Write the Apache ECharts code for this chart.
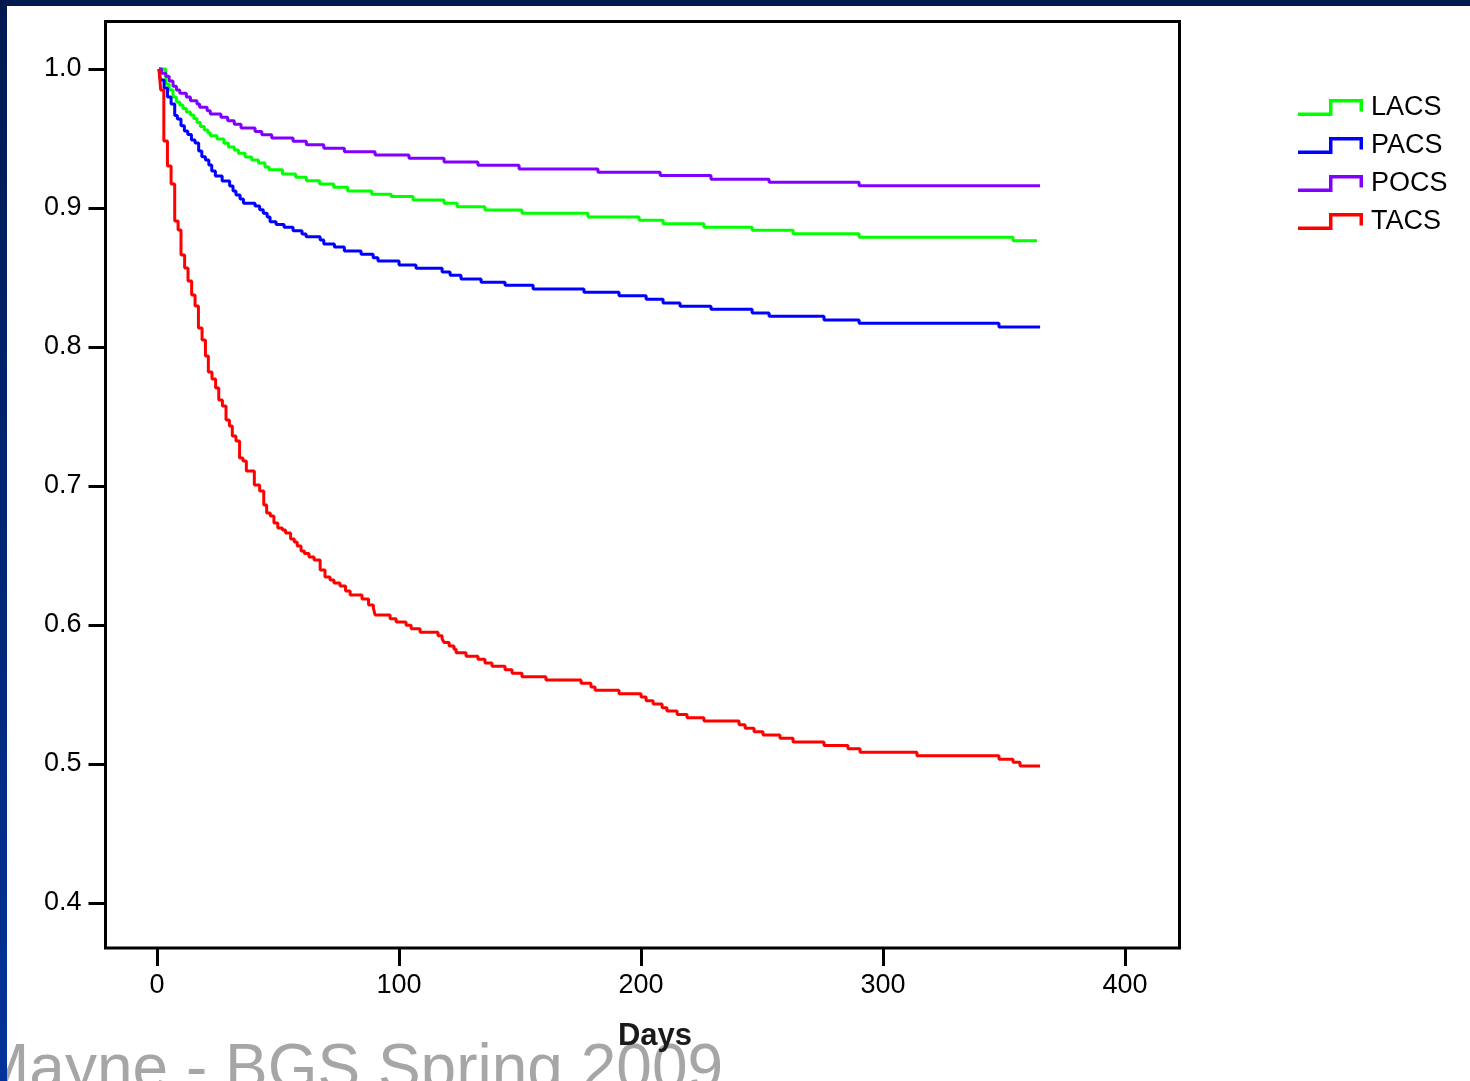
<!DOCTYPE html>
<html>
<head>
<meta charset="utf-8">
<script src="https://cdn.jsdelivr.net/npm/echarts@6/dist/echarts.min.js"></script>
<style>
  html, body { margin: 0; padding: 0; background: #ffffff; }
  #chart { width: 1470px; height: 1081px; }
</style>
</head>
<body>
<div id="chart"></div>
<script>
// ---- Data ----
const seriesNames = ['LACS', 'PACS', 'POCS', 'TACS'];
const seriesColors = ['#00ff00', '#0000ff', '#8000ff', '#ff0000'];

const xTicks = [0, 100, 200, 300, 400];
const yTicks = [0.4, 0.5, 0.6, 0.7, 0.8, 0.9, 1.0];

const lacsDays = [0.8,3.6,5.0,6.6,8.0,9.4,10.7,12.1,13.8,15.2,16.5,17.9,19.5,21.0,22.0,24.8,27.6,29.5,31.9,33.6,36.4,39.1,41.9,44.6,46.3,51.8,57.3,61.7,67.2,73.0,78.8,88.7,96.7,105.8,118.6,124.0,135.5,150.8,178.1,199.2,209.1,226.0,245.9,262.8,290.1,353.7,363.6];
const lacsSurv = [1.0,0.9892,0.9849,0.9799,0.9763,0.9741,0.9716,0.9691,0.9669,0.9644,0.9615,0.9586,0.9561,0.9540,0.9520,0.9496,0.9465,0.9439,0.9417,0.9394,0.9367,0.9345,0.9324,0.9295,0.9276,0.9245,0.9221,0.9196,0.9173,0.9149,0.9122,0.9099,0.9083,0.9058,0.9034,0.9009,0.8986,0.8962,0.8935,0.8912,0.8887,0.8861,0.8840,0.8815,0.8789,0.8765,0.8765];

const pacsDays = [0.8,1.4,2.9,4.3,5.8,7.3,8.4,9.9,11.3,12.7,14.2,15.7,17.2,18.5,20.0,21.4,22.6,24.1,26.9,30.0,31.4,32.6,34.3,35.7,40.5,42.4,43.9,45.5,46.7,49.2,52.5,56.2,59.9,61.6,67.4,68.9,73.3,77.4,84.3,89.3,91.3,100.0,107.0,117.8,121.1,125.6,133.9,143.8,155.4,176.4,190.9,202.1,209.1,216.1,228.9,245.9,252.9,275.6,290.1,347.9,364.9];
const pacsSurv = [1.0,0.9921,0.9863,0.9799,0.9748,0.9665,0.9640,0.9592,0.9554,0.9529,0.9489,0.9468,0.9410,0.9369,0.9345,0.9309,0.9266,0.9230,0.9194,0.9158,0.9122,0.9094,0.9065,0.9034,0.9014,0.8988,0.8962,0.8935,0.8901,0.8881,0.8861,0.8837,0.8813,0.8794,0.8770,0.8741,0.8719,0.8691,0.8667,0.8642,0.8619,0.8590,0.8566,0.8540,0.8516,0.8489,0.8465,0.8444,0.8417,0.8394,0.8369,0.8343,0.8317,0.8293,0.8271,0.8245,0.8221,0.8194,0.8171,0.8144,0.8144];

const pocsDays = [0.8,1.9,3.6,5.0,6.6,8.0,9.4,12.1,13.8,16.5,17.6,20.7,22.0,26.4,29.2,31.9,34.7,40.5,43.3,47.4,56.2,61.7,68.9,77.4,90.1,104.1,118.6,132.6,149.6,182.2,207.9,228.9,252.9,290.1,364.9];
const pocsSurv = [1.0,0.9969,0.9947,0.9914,0.9876,0.9849,0.9825,0.9799,0.9772,0.9748,0.9724,0.9700,0.9676,0.9653,0.9627,0.9602,0.9576,0.9550,0.9527,0.9504,0.9480,0.9455,0.9429,0.9405,0.9381,0.9358,0.9331,0.9307,0.9281,0.9257,0.9233,0.9207,0.9186,0.9160,0.9160];

const tacsDays = [0.8,1.5,2.8,4.3,5.8,7.3,8.7,9.9,11.4,12.8,14.3,15.7,17.1,18.6,20.0,21.2,22.7,24.2,25.5,27.0,28.5,29.9,31.1,32.6,34.1,35.5,36.9,40.2,42.4,44.1,45.3,46.8,48.3,49.9,51.8,53.1,55.2,56.7,57.9,59.5,60.9,62.8,64.9,67.4,69.4,71.5,73.1,75.6,77.9,79.8,84.7,87.4,89.4,90.1,96.3,98.8,102.9,105.0,108.7,116.1,117.8,118.6,120.7,122.7,123.6,127.7,132.6,135.5,138.4,143.8,146.7,150.8,160.7,175.2,179.3,181.0,190.9,200.0,202.1,205.0,208.7,210.7,214.9,219.0,226.0,240.5,243.0,246.7,250.4,257.4,262.8,275.6,285.5,290.5,314.0,347.9,353.7,356.6,364.9];
const tacsSurv = [1.0,0.9849,0.9482,0.9302,0.9173,0.8906,0.8842,0.8662,0.8568,0.8475,0.8374,0.8295,0.8137,0.8050,0.7935,0.7820,0.7770,0.7705,0.7619,0.7576,0.7475,0.7432,0.7360,0.7324,0.7201,0.7180,0.7108,0.7007,0.6964,0.6863,0.6806,0.6784,0.6734,0.6698,0.6683,0.6662,0.6619,0.6597,0.6568,0.6532,0.6514,0.6489,0.6468,0.6396,0.6345,0.6324,0.6302,0.6281,0.6245,0.6216,0.6187,0.6144,0.6122,0.6072,0.6045,0.6022,0.5998,0.5973,0.5947,0.5923,0.5899,0.5875,0.5849,0.5825,0.5801,0.5775,0.5753,0.5727,0.5703,0.5678,0.5653,0.5628,0.5604,0.5581,0.5554,0.5530,0.5506,0.5482,0.5455,0.5432,0.5405,0.5381,0.5357,0.5333,0.5309,0.5283,0.5257,0.5232,0.5209,0.5185,0.5158,0.5134,0.5110,0.5084,0.5060,0.5034,0.5012,0.4986,0.4986];

const xAxisTitle = 'Days';
const footerText = 'Mayne - BGS Spring 2009';

// ---- Build ----
const allDays = [lacsDays, pacsDays, pocsDays, tacsDays];
const allSurv = [lacsSurv, pacsSurv, pocsSurv, tacsSurv];
const zip = (a, b) => a.map((d, i) => [d, b[i]]);

const FONT = "'Liberation Sans', Arial, sans-serif";
const stepIcon = 'path://M0,13.5L31,13.5L31,0L65,0L65,12.5L61.5,12.5L61.5,3.5L34.5,3.5L34.5,17L0,17Z';

const chart = echarts.init(document.getElementById('chart'), null, { renderer: 'canvas' });
chart.setOption({
  animation: false,
  backgroundColor: '#ffffff',
  grid: {
    left: 105.5, top: 21.5, right: 290.5, bottom: 133,
    show: true, borderColor: '#000000', borderWidth: 3, backgroundColor: 'transparent',
    containLabel: false
  },
  legend: {
    orient: 'vertical',
    left: 1293, top: 89,
    itemWidth: 65, itemHeight: 17, itemGap: 11,
    icon: stepIcon,
    data: seriesNames,
    textStyle: { fontFamily: FONT, fontSize: 27, color: '#000000', padding: [0, 0, 0, 3] }
  },
  xAxis: {
    type: 'value',
    min: -21.3, max: 422.5,
    axisLine: { show: false, onZero: false },
    splitLine: { show: false },
    axisTick: { show: true, inside: false, length: 18, lineStyle: { color: '#000', width: 3 }, customValues: xTicks },
    axisLabel: { show: true, margin: 24, fontFamily: FONT, fontSize: 27, color: '#000', customValues: xTicks,
                 formatter: v => String(Math.round(v)) }
  },
  yAxis: {
    type: 'value',
    min: 0.36763, max: 1.03417,
    axisLine: { show: false, onZero: false },
    splitLine: { show: false },
    axisTick: { show: true, inside: false, length: 17, lineStyle: { color: '#000', width: 3 }, customValues: yTicks },
    axisLabel: { show: true, margin: 24, fontFamily: FONT, fontSize: 27, color: '#000', customValues: yTicks,
                 formatter: v => Number(v).toFixed(1) }
  },
  series: seriesNames.map((name, i) => ({
    name: name,
    type: 'line',
    step: 'end',
    symbol: 'none',
    color: seriesColors[i],
    itemStyle: { color: seriesColors[i] },
    lineStyle: { color: seriesColors[i], width: 3 },
    data: zip(allDays[i], allSurv[i]),
    z: 3 + i
  })),
  graphic: [
    { type: 'rect', left: 0, top: 0, shape: { width: 1470, height: 6 }, style: { fill: '#011a4f' }, z: 10 },
    { type: 'rect', left: 0, top: 0,
      shape: { width: 7, height: 1081 },
      style: { fill: new echarts.graphic.LinearGradient(0, 0, 0, 1, [
        { offset: 0, color: '#001a50' }, { offset: 1, color: '#00339a' }]) }, z: 10 },
    { type: 'text', x: 655, y: 1036, z: 10,
      style: { text: xAxisTitle, fontFamily: FONT, fontSize: 31, fontWeight: 'bold', fill: '#1a1a1a',
               align: 'center', verticalAlign: 'middle' } },
    { type: 'text', x: -24, y: 1071, z: 9,
      style: { text: footerText, fontFamily: FONT, fontSize: 64, fill: '#a6a6a6',
               align: 'left', verticalAlign: 'middle' } }
  ]
});
</script>
</body>
</html>
